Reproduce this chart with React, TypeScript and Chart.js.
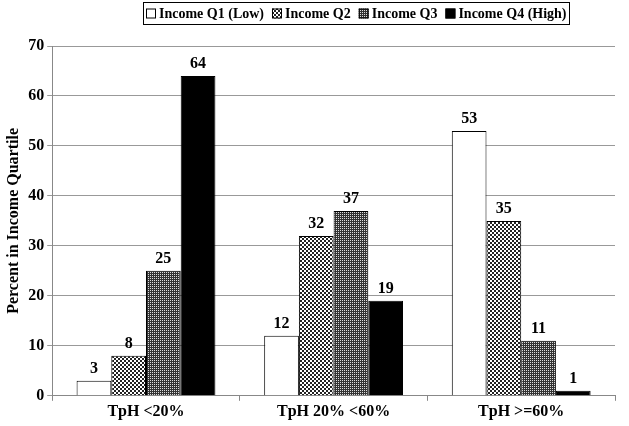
import React, { useEffect, useRef } from "react";
import { Chart, registerables } from "chart.js";
Chart.register(...registerables);

const categories = ["TpH <20%", "TpH 20% <60%", "TpH >=60%"];
const seriesNames = ["Income Q1 (Low)", "Income Q2", "Income Q3", "Income Q4 (High)"];
const q1 = [3, 12, 53];
const q2 = [8, 32, 35];
const q3 = [25, 37, 11];
const q4 = [64, 19, 1];
const yTicks = [0, 10, 20, 30, 40, 50, 60, 70];

function makePattern(kind: string): CanvasPattern | string {
  const c = document.createElement("canvas");
  const ctx = c.getContext("2d")!;
  if (kind === "check") {
    c.width = 4; c.height = 4;
    ctx.fillStyle = "#ffffff"; ctx.fillRect(0, 0, 4, 4);
    ctx.fillStyle = "#222222";
    ctx.fillRect(0, 0, 2, 2); ctx.fillRect(2, 2, 2, 2);
  } else {
    c.width = 2; c.height = 2;
    ctx.fillStyle = "#333333"; ctx.fillRect(0, 0, 2, 2);
    ctx.fillStyle = "#dddddd"; ctx.fillRect(0, 0, 1, 1);
  }
  return ctx.createPattern(c, "repeat") || "#777";
}

const font = "'Liberation Serif', 'Times New Roman', serif";

export default function App() {
  const ref = useRef<HTMLCanvasElement>(null);
  useEffect(() => {
    document.body.style.margin = "0";
    const labelPlugin = {
      id: "vals",
      afterDatasetsDraw(chart: any) {
        const ctx = chart.ctx;
        ctx.save();
        ctx.font = `bold 16px ${font}`;
        ctx.fillStyle = "#000";
        ctx.textAlign = "center";
        ctx.textBaseline = "bottom";
        chart.data.datasets.forEach((ds: any, i: number) => {
          const meta = chart.getDatasetMeta(i);
          meta.data.forEach((bar: any, j: number) => {
            ctx.fillText(String(ds.data[j]), bar.x, bar.y - 4);
          });
        });
        ctx.restore();
      },
      afterDraw(chart: any) {
        // custom boxed legend
        const ctx = chart.ctx;
        ctx.save();
        ctx.font = `bold 14px ${font}`;
        ctx.textBaseline = "middle";
        ctx.textAlign = "left";
        const startX = 146;
        const midY = 13.5;
        let x = startX;
        chart.data.datasets.forEach((ds: any, i: number) => {
          ctx.fillStyle = ds.backgroundColor;
          ctx.fillRect(x, midY - 5, 10, 10);
          ctx.strokeStyle = "#000";
          ctx.lineWidth = 1;
          ctx.strokeRect(x + 0.5, midY - 4.5, 9, 9);
          x += 13;
          ctx.fillStyle = "#000";
          ctx.fillText(ds.label, x, midY + 1);
          x += ctx.measureText(ds.label).width + (i < 3 ? 8 : 4);
        });
        ctx.strokeStyle = "#000";
        ctx.lineWidth = 1;
        ctx.strokeRect(startX - 3 + 0.5, 2.5, Math.round(x - startX + 1), 22);
        ctx.restore();
      },
    };
    const chart = new Chart(ref.current!, {
      type: "bar",
      data: {
        labels: categories,
        datasets: [
          { label: seriesNames[0], data: q1, backgroundColor: "#ffffff" },
          { label: seriesNames[1], data: q2, backgroundColor: makePattern("check") as any },
          { label: seriesNames[2], data: q3, backgroundColor: makePattern("fine") as any },
          { label: seriesNames[3], data: q4, backgroundColor: "#000000" },
        ].map((d) => ({ ...d, borderColor: "#000", borderWidth: 1, categoryPercentage: 0.74, barPercentage: 1 })),
      },
      plugins: [labelPlugin],
      options: {
        animation: false,
        responsive: false,
        layout: { padding: { left: 2, right: 14, top: 46, bottom: 4 } },
        plugins: {
          tooltip: { enabled: false },
          legend: { display: false },
        },
        scales: {
          x: {
            grid: { offset: true, drawOnChartArea: false, color: "#888", tickLength: 5 },
            border: { color: "#888" },
            ticks: { color: "#000", font: { family: font, size: 16, weight: "bold" }, padding: 1 },
          },
          y: {
            min: 0,
            max: 70,
            afterBuildTicks: (axis: any) => { axis.ticks = yTicks.map((v) => ({ value: v })); },
            grid: { color: "#999", tickLength: 5 },
            border: { color: "#888" },
            ticks: { color: "#000", font: { family: font, size: 16, weight: "bold" }, padding: 3 },
            title: {
              display: true,
              text: "Percent in Income Quartile",
              color: "#000",
              font: { family: font, size: 16, weight: "bold" },
              padding: 2,
            },
          },
        },
      },
    } as any);
    return () => chart.destroy();
  }, []);
  return (
    <div style={{ width: 629, height: 426 }}>
      <canvas ref={ref} width={629} height={426} style={{ display: "block" }} />
    </div>
  );
}
